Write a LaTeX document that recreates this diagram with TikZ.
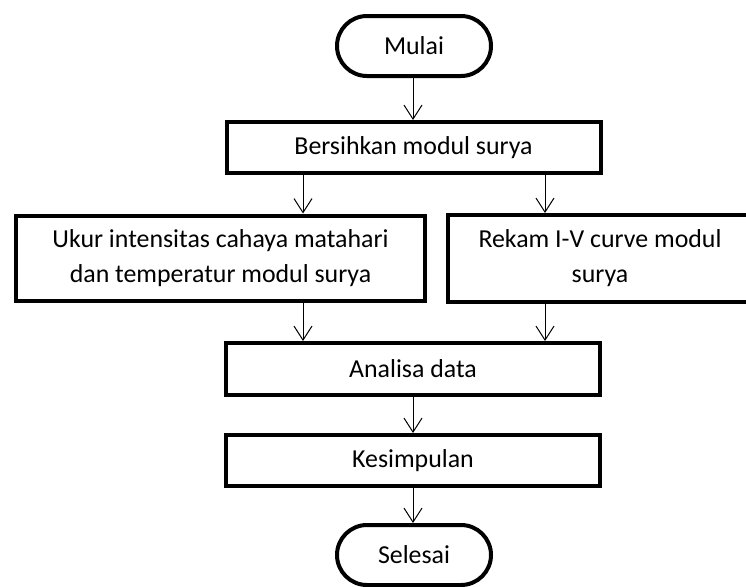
\documentclass[tikz,border=0pt]{standalone}
\usepackage{fontspec}
\setmainfont{Carlito}
\usetikzlibrary{arrows.meta}
\tikzset{
  box/.style={draw=black, line width=3pt, fill=white, rectangle, inner sep=0pt, align=center,
    font=\fontsize{19.4}{26.25}\selectfont},
  term/.style={box, rounded corners=22.5pt},
  arr/.style={draw=black, line width=0.75pt, -{Straight Barb[length=10.5pt,width=13.5pt,line width=0.75pt]}}
}
\begin{document}
\begin{tikzpicture}[x=0.75pt,y=-0.75pt]
\useasboundingbox (0,0) rectangle (746,586);
\clip (0,0) rectangle (746,586);
\fill[white] (0,0) rectangle (746,586);
\node[term, minimum width=154*0.75pt, minimum height=60*0.75pt] (mulai) at (414,46) {Mulai};
\node[box, minimum width=374*0.75pt, minimum height=51*0.75pt] (bers) at (413.5,147.5) {Bersihkan modul surya};
\node[box, minimum width=409*0.75pt, minimum height=85*0.75pt] (ukur) at (220.5,258) {Ukur intensitas cahaya matahari\\dan temperatur modul surya};
\node[box, minimum width=304*0.75pt, minimum height=87*0.75pt] (rekam) at (600,258.5) {Rekam I-V curve modul\\surya};
\node[box, minimum width=374*0.75pt, minimum height=52*0.75pt] (anal) at (413,369) {Analisa data};
\node[box, minimum width=374*0.75pt, minimum height=51*0.75pt] (kes) at (413,460.5) {Kesimpulan};
\node[term, minimum width=154*0.75pt, minimum height=60*0.75pt] (sel) at (414,555) {Selesai};
\coordinate (cm) at (413,0);
\coordinate (cl) at (303,0);
\coordinate (cr) at (545,0);
\draw[arr] (mulai.south -| cm) -- (bers.north -| cm);
\draw[arr] (bers.south -| cl) -- (ukur.north -| cl);
\draw[arr] (bers.south -| cr) -- (rekam.north -| cr);
\draw[arr] (ukur.south -| cl) -- (anal.north -| cl);
\draw[arr] (rekam.south -| cr) -- (anal.north -| cr);
\draw[arr] (anal.south -| cm) -- (kes.north -| cm);
\draw[arr] (kes.south -| cm) -- (sel.north -| cm);
\end{tikzpicture}
\end{document}
